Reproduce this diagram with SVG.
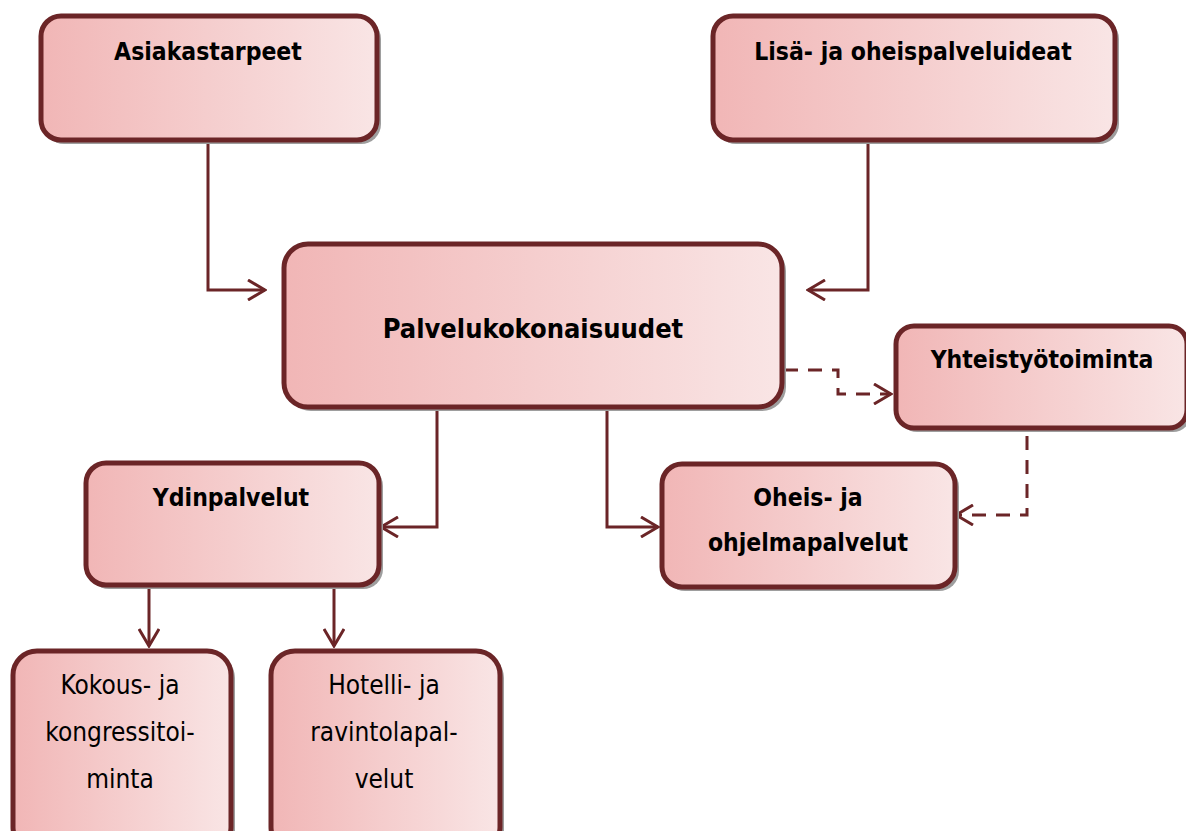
<svg xmlns="http://www.w3.org/2000/svg" width="1186" height="831" viewBox="0 0 1186 831">
<defs>
<linearGradient id="g" x1="0" y1="0" x2="1" y2="0">
<stop offset="0" stop-color="#f1b6b6"/>
<stop offset="1" stop-color="#f9e5e5"/>
</linearGradient>
<marker id="ah" viewBox="0 0 20 22" refX="18" refY="11" markerWidth="20" markerHeight="22" markerUnits="userSpaceOnUse" orient="auto">
<path d="M1,1 L18,11 L1,21" fill="none" stroke="#6b2527" stroke-width="3"/>
</marker>
</defs>
<style>
.sh{fill:#9e9e9e;}
.bx{fill:url(#g);stroke:#6b2527;stroke-width:5;}
.t{font-family:"DejaVu Sans Condensed","DejaVu Sans",sans-serif;fill:#000;text-anchor:middle;}
.b{font-weight:bold;font-size:24.5px;}
.r{font-size:26px;}
.c{fill:none;stroke:#6b2527;stroke-width:3;marker-end:url(#ah);}
.d{stroke-dasharray:14,10;}
</style>
<rect width="1186" height="831" fill="#fff"/>
<g id="connectors">
<path class="c" d="M208,140 V290 H265"/>
<path class="c" d="M868,140 V290 H808"/>
<path class="c d" d="M784,370 H838 V394 H891"/>
<path class="c d" d="M1027,436 V515 H956"/>
<path class="c" d="M437,409 V527 H381"/>
<path class="c" d="M607,409 V527 H658"/>
<path class="c" d="M149,587 V646"/>
<path class="c" d="M334,587 V646"/>
</g>
<g id="asiakastarpeet">
<rect class="sh" x="44" y="19" width="337" height="125" rx="20"/>
<rect class="bx" x="41" y="16" width="336" height="124" rx="20"/>
<text class="t b" x="208" y="60">Asiakastarpeet</text>
</g>
<g id="lisa">
<rect class="sh" x="716" y="19" width="403" height="125" rx="20"/>
<rect class="bx" x="713" y="16" width="402" height="124" rx="20"/>
<text class="t b" x="913" y="60">Lisä- ja oheispalveluideat</text>
</g>
<g id="palvelukokonaisuudet">
<rect class="sh" x="287" y="247" width="499" height="164" rx="24"/>
<rect class="bx" x="284" y="244" width="498" height="163" rx="24"/>
<text class="t b" x="533" y="338" style="font-size:27px">Palvelukokonaisuudet</text>
</g>
<g id="yhteistyotoiminta">
<rect class="sh" x="899" y="329" width="292" height="103" rx="18"/>
<rect class="bx" x="896" y="326" width="291" height="102" rx="18"/>
<text class="t b" x="1042" y="368">Yhteistyötoiminta</text>
</g>
<g id="oheis">
<rect class="sh" x="665" y="467" width="294" height="124" rx="20"/>
<rect class="bx" x="662" y="464" width="293" height="123" rx="20"/>
<text class="t b" x="808" y="506">Oheis- ja</text>
<text class="t b" x="808" y="551">ohjelmapalvelut</text>
</g>
<g id="ydinpalvelut">
<rect class="sh" x="89" y="466" width="294" height="123" rx="20"/>
<rect class="bx" x="86" y="463" width="293" height="122" rx="20"/>
<text class="t b" x="231" y="506">Ydinpalvelut</text>
</g>
<g id="kokous">
<rect class="sh" x="16" y="654" width="219" height="200" rx="24"/>
<rect class="bx" x="13" y="651" width="218" height="200" rx="24"/>
<text class="t r" x="120" y="694">Kokous- ja</text>
<text class="t r" x="120" y="741">kongressitoi-</text>
<text class="t r" x="120" y="788">minta</text>
</g>
<g id="hotelli">
<rect class="sh" x="274" y="654" width="230" height="200" rx="24"/>
<rect class="bx" x="271" y="651" width="229" height="200" rx="24"/>
<text class="t r" x="384" y="694">Hotelli- ja</text>
<text class="t r" x="384" y="741">ravintolapal-</text>
<text class="t r" x="384" y="788">velut</text>
</g>
</svg>
